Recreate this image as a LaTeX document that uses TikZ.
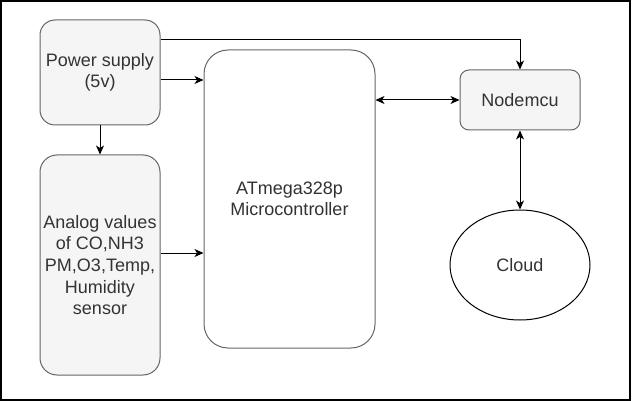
\documentclass[tikz,border=0pt]{standalone}
\usepackage{fontspec}
\setmainfont{Liberation Sans}
\usetikzlibrary{arrows.meta,shapes.geometric}
\definecolor{boxfill}{HTML}{F5F5F5}
\definecolor{boxline}{HTML}{666666}
\definecolor{txt}{HTML}{333333}
\begin{document}
\begin{tikzpicture}[x=1pt,y=-1pt,
  every node/.style={font=\fontsize{18pt}{21.6pt}\selectfont, text=txt, align=center, inner sep=0pt},
  graybox/.style={draw=boxline, fill=boxfill, line width=1pt},
  whitebox/.style={draw=boxline, fill=white, line width=1pt},
  conn/.style={line width=1pt, draw=black, -{Stealth[length=9pt,width=8pt,inset=2.5pt]}},
  biconn/.style={line width=1pt, draw=black, {Stealth[length=9pt,width=8pt,inset=2.5pt]}-{Stealth[length=9pt,width=8pt,inset=2.5pt]}}]
\useasboundingbox (0,0) rectangle (632,401);
\draw[line width=1.5pt] (1,1) rectangle (630,400);

\node[graybox, rounded corners=15pt, minimum width=120pt, minimum height=105pt] (power) at (100,72.5) {Power supply\\(5v)};
\node[graybox, rounded corners=17pt, minimum width=120pt, minimum height=220pt] (analog) at (100,265) {Analog values\\of CO,NH3\\PM,O3,Temp,\\Humidity\\sensor};
\node[whitebox, rounded corners=24pt, minimum width=171pt, minimum height=298pt] (micro) at (289.5,199) {ATmega328p\\Microcontroller};
\node[graybox, rounded corners=9pt, minimum width=120pt, minimum height=60pt] (nodemcu) at (520,100) {Nodemcu};
\node[draw=black, line width=1pt, fill=white, ellipse, minimum width=140pt, minimum height=110pt] (cloud) at (520,265) {Cloud};

\coordinate (ytop) at (0,40);
\coordinate (ypow) at (0,80);
\coordinate (yana) at (0,253);

\draw[conn] (power.east |- ytop) -| (nodemcu.north);
\draw[conn] (power.east |- ypow) -- (micro.west |- ypow);
\draw[conn] (power.south) -- (analog.north);
\draw[conn] (analog.east |- yana) -- (micro.west |- yana);
\draw[biconn] (micro.east |- nodemcu.west) -- (nodemcu.west);
\draw[biconn] (nodemcu.south) -- (cloud.north);
\end{tikzpicture}
\end{document}
